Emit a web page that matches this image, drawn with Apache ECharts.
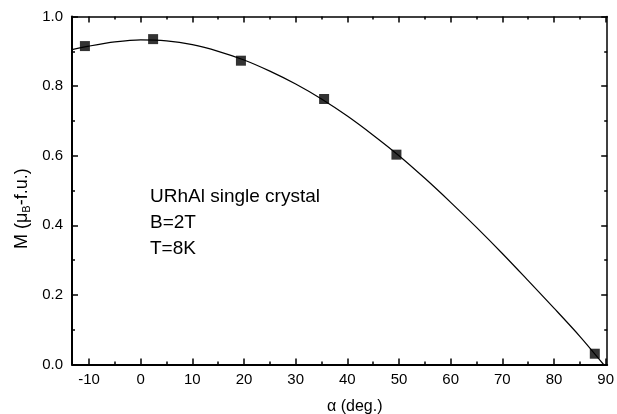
<!DOCTYPE html>
<html>
<head>
<meta charset="utf-8">
<script src="https://cdn.jsdelivr.net/npm/echarts@6/dist/echarts.min.js"></script>
<style>html,body{margin:0;padding:0;background:#fff}#c{width:617px;height:414px}</style>
</head>
<body>
<div id="c"></div>
<script>
// Fitted curve
var curveAlpha = [-13.3, -10, -5, 0, 5, 10, 15, 20, 25, 30, 35, 40, 45, 50, 55, 60, 65, 70, 75, 80, 85, 89.6];
var curveM     = [0.905, 0.915, 0.927, 0.933, 0.930, 0.919, 0.900, 0.875, 0.843, 0.806, 0.763, 0.714, 0.659, 0.600, 0.535, 0.466, 0.394, 0.319, 0.241, 0.162, 0.081, 0.0];
// Measured points
var pointAlpha = [-10.8, 2.4, 19.4, 35.5, 49.5, 87.9];
var pointM     = [0.915, 0.935, 0.873, 0.763, 0.603, 0.031];
// Tick values
var xMajorTicks = [-10, 0, 10, 20, 30, 40, 50, 60, 70, 80, 90];
var xMinorTicks = [-5, 5, 15, 25, 35, 45, 55, 65, 75, 85];
var annotation = ['URhAl single crystal', 'B=2T', 'T=8K'];

var XMIN = -13.3, XMAX = 90.3;
var FONT = '"Liberation Sans", Arial, Helvetica, sans-serif';

function xAx(pos, major, withLabels, lineW) {
  return {
    type: 'value', position: pos, min: XMIN, max: XMAX,
    axisLine: { show: lineW > 0, onZero: false, lineStyle: { color: '#000', width: lineW } },
    axisTick: { show: true, inside: true, length: major ? 6 : 3, customValues: major ? xMajorTicks : xMinorTicks, lineStyle: { color: '#000', width: 1.5 } },
    axisLabel: withLabels ? { show: true, customValues: xMajorTicks, margin: 8, color: '#000', fontSize: 15, fontFamily: FONT } : { show: false },
    splitLine: { show: false }
  };
}
function yAx(pos, withLabels, lineW) {
  return {
    type: 'value', position: pos, min: 0, max: 1, interval: 0.2,
    axisLine: { show: true, onZero: false, lineStyle: { color: '#000', width: lineW } },
    axisTick: { show: true, inside: true, length: 6, lineStyle: { color: '#000', width: 1.5 } },
    minorTick: { show: true, splitNumber: 2, length: 3, lineStyle: { color: '#000', width: 1.5 } },
    axisLabel: withLabels ? { show: true, margin: 9, color: '#000', fontSize: 15, fontFamily: FONT, formatter: function (v) { return v.toFixed(1); } } : { show: false },
    splitLine: { show: false }
  };
}

var chart = echarts.init(document.getElementById('c'), null, { renderer: 'canvas' });
chart.setOption({
  animation: false,
  backgroundColor: '#fff',
  grid: { left: 72, right: 6, top: 16.5, bottom: 49.5, containLabel: false },
  xAxis: [
    xAx('bottom', true, true, 2),
    xAx('bottom', false, false, 0),
    xAx('top', true, false, 1.5),
    xAx('top', false, false, 0)
  ],
  yAxis: [
    yAx('left', true, 2),
    yAx('right', false, 1.5)
  ],
  series: [
    {
      type: 'line', xAxisIndex: 0, yAxisIndex: 0, smooth: 0.3, showSymbol: false,
      lineStyle: { color: '#000', width: 1.2 },
      data: curveAlpha.map(function (a, i) { return [a, curveM[i]]; }),
      z: 2
    },
    {
      type: 'scatter', xAxisIndex: 0, yAxisIndex: 0, symbol: 'rect', symbolSize: 10,
      itemStyle: { color: '#000' },
      data: pointAlpha.map(function (a, i) { return [a, pointM[i]]; }),
      z: 3
    }
  ],
  graphic: [
    { type: 'text', left: 150, top: 187, style: { text: annotation[0], font: '19px ' + FONT, fill: '#000' } },
    { type: 'text', left: 150, top: 213, style: { text: annotation[1], font: '19px ' + FONT, fill: '#000' } },
    { type: 'text', left: 150, top: 239, style: { text: annotation[2], font: '19px ' + FONT, fill: '#000' } },
    { type: 'text', left: 327, top: 399, style: { text: 'α (deg.)', font: '16px ' + FONT, fill: '#000' } },
    {
      type: 'text', x: 12, y: 249, rotation: Math.PI / 2,
      style: {
        text: 'M ({a|μ}{b|B}-f.u.)',
        font: '18px ' + FONT, fill: '#000',
        rich: { a: { fontSize: 18, fontFamily: FONT }, b: { fontSize: 11, fontFamily: FONT, verticalAlign: 'bottom', padding: [9, 0, 0, 0] } }
      }
    }
  ]
});
</script>
</body>
</html>
